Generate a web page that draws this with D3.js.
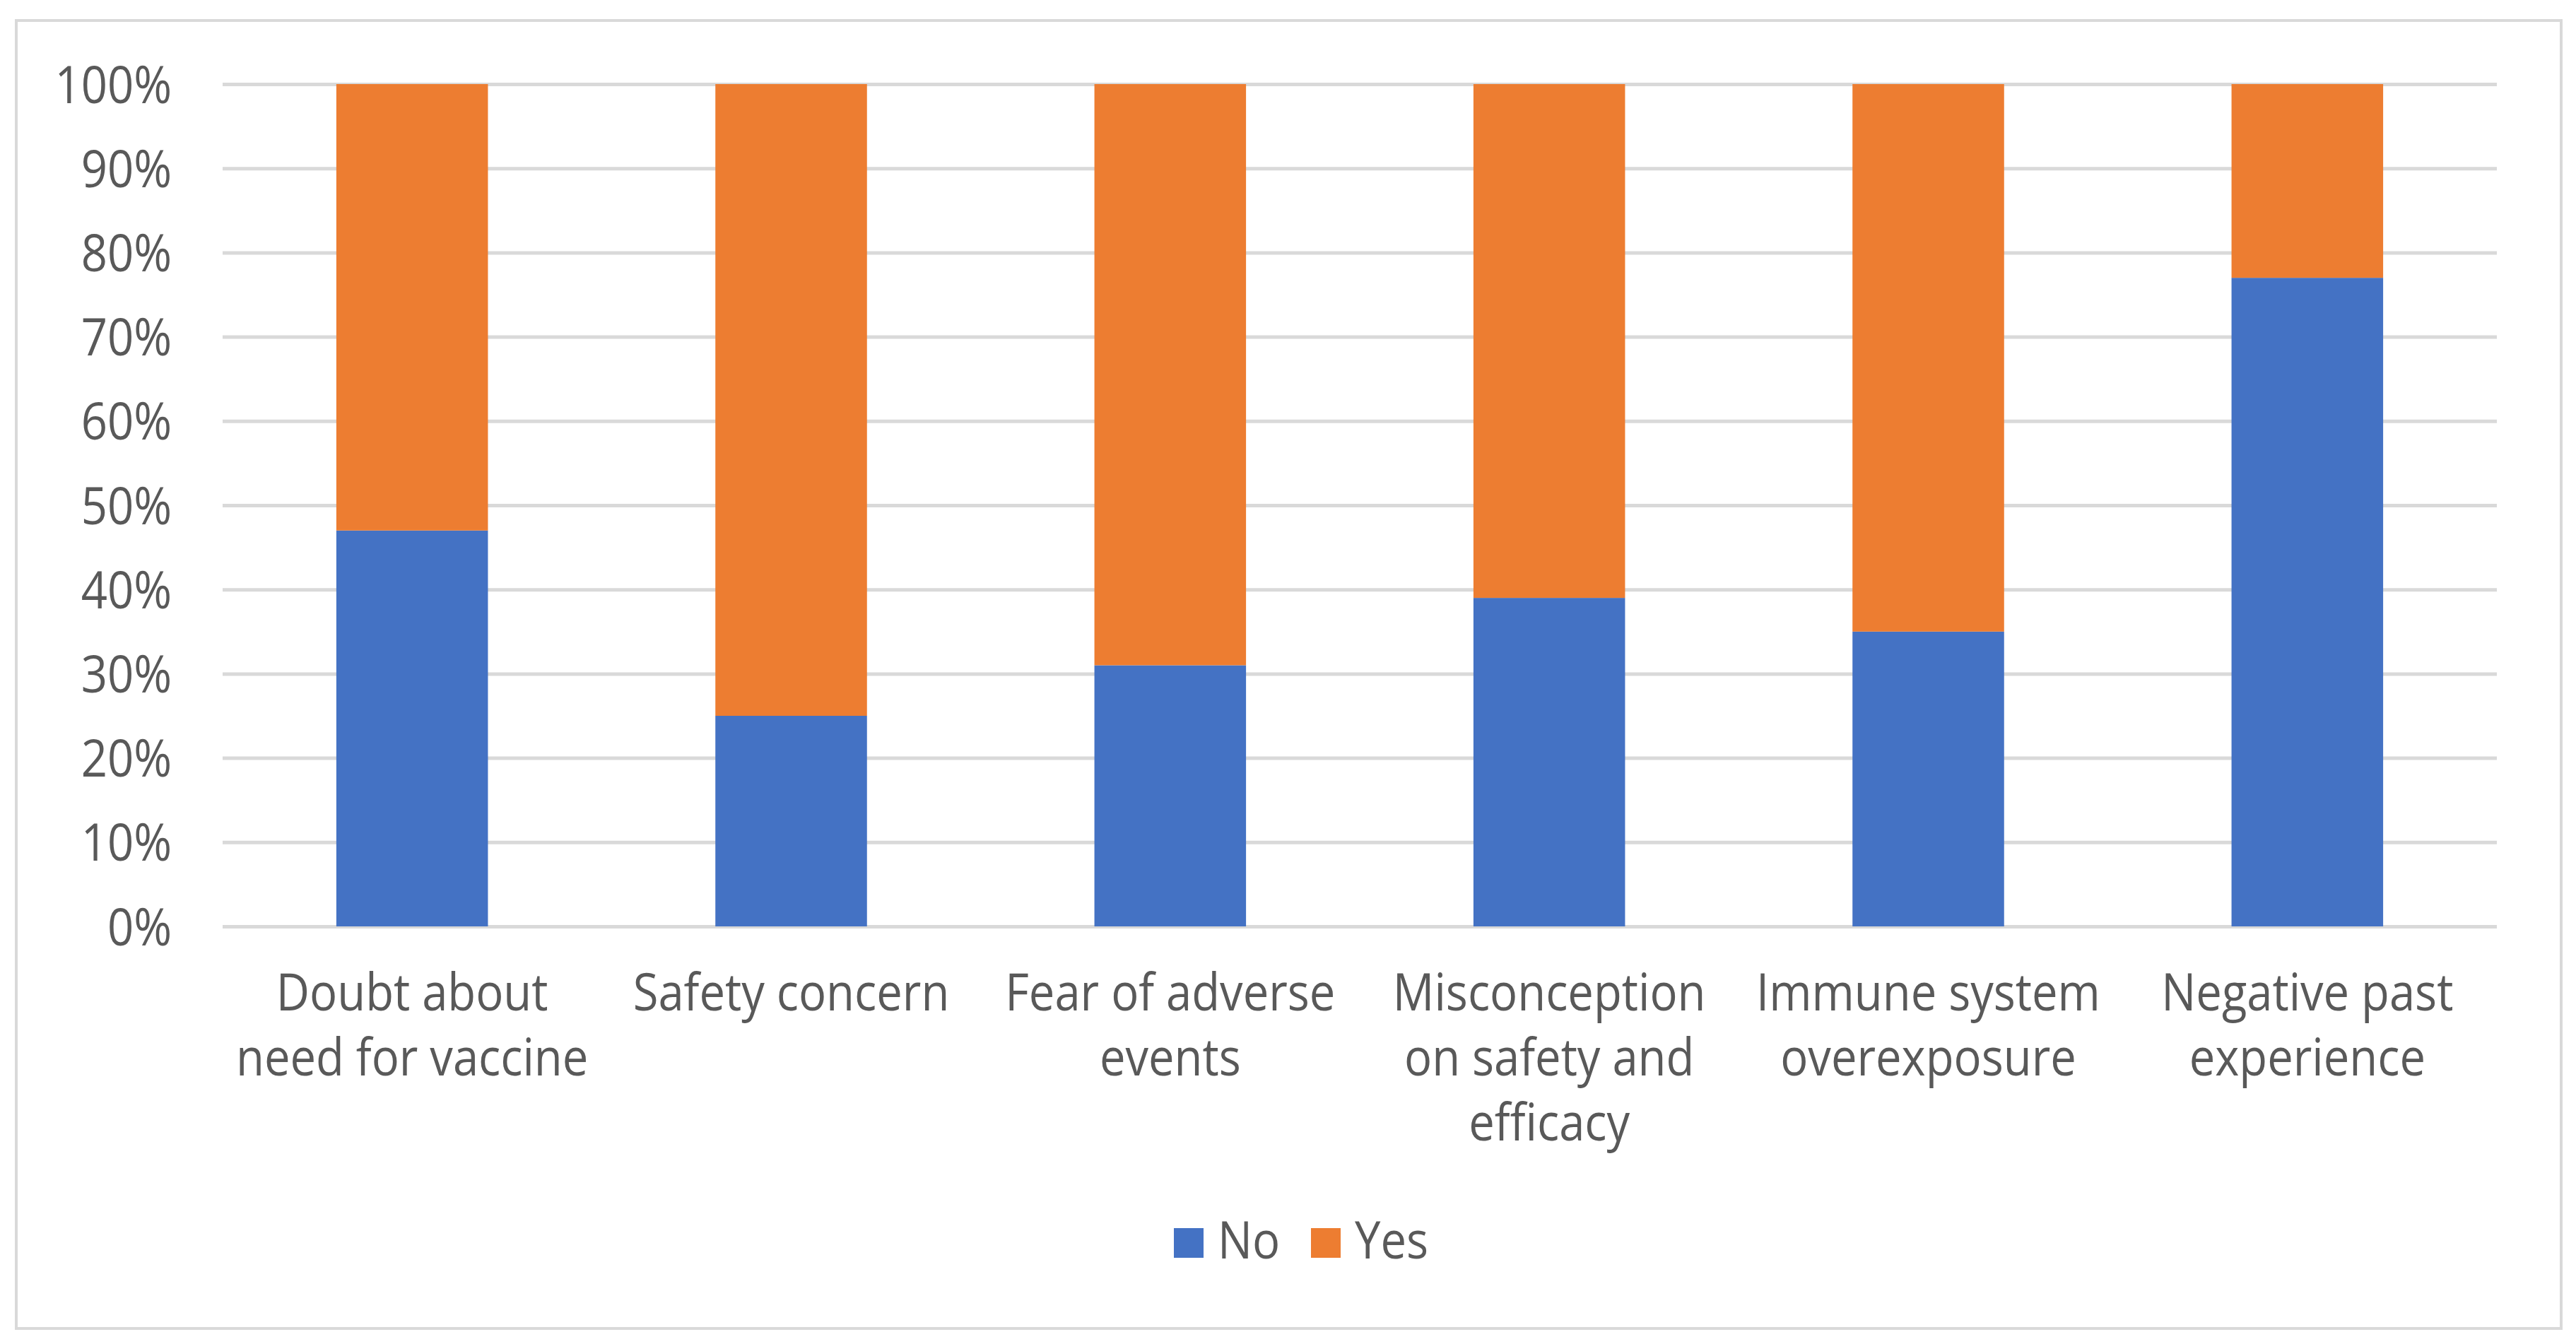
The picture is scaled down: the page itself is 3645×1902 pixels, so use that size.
<!DOCTYPE html>
<html>
<head>
<meta charset="utf-8">
<script src="https://cdn.jsdelivr.net/npm/d3@7"></script>
<style>
  body { margin: 0; background: #fff; }
  text { font-family: "Open Sans", sans-serif; fill: #595959; }
</style>
</head>
<body>
<script>
"use strict";

const width = 3645;
const height = 1902;

// data
const categories = [
  "Doubt about need for vaccine",
  "Safety concern",
  "Fear of adverse events",
  "Misconception on safety and efficacy",
  "Immune system overexposure",
  "Negative past experience"
];
const categoryLines = [
  ["Doubt about", "need for vaccine"],
  ["Safety concern"],
  ["Fear of adverse", "events"],
  ["Misconception", "on safety and", "efficacy"],
  ["Immune system", "overexposure"],
  ["Negative past", "experience"]
];
const seriesNames = ["No", "Yes"];
const noValues = [47, 25, 31, 39, 35, 77];
const yesValues = [53, 75, 69, 61, 65, 23];
const yTicks = [0, 10, 20, 30, 40, 50, 60, 70, 80, 90, 100];
const colors = ["#4472c4", "#ed7d31"];

// Open Sans is wider than the original font, squeeze text a bit
const squeeze = 0.88;

const margin = { top: 119, right: width - 3533, bottom: height - 1311, left: 315 };

let svg = d3.select("body").append("svg")
    .attr("width", width)
    .attr("height", height);

// chart border
svg.append("rect")
    .attr("x", 23).attr("y", 29)
    .attr("width", 3601).attr("height", 1851)
    .attr("fill", "#fff")
    .attr("stroke", "#d9d9d9")
    .attr("stroke-width", 4);

let x = d3.scaleBand()
    .domain(categories)
    .range([margin.left, width - margin.right])
    .paddingInner(0.6)
    .paddingOuter(0.3);

let y = d3.scaleLinear()
    .domain([0, 100])
    .range([height - margin.bottom, margin.top]);

// gridlines
let yAxis = d3.axisLeft(y)
    .tickValues(yTicks)
    .tickSize(-(width - margin.left - margin.right))
    .tickFormat("");

let gy = svg.append("g")
    .attr("transform", `translate(${margin.left},0)`)
    .call(yAxis);
gy.select(".domain").remove();
gy.selectAll(".tick line")
    .attr("stroke", "#d9d9d9")
    .attr("stroke-width", 5);

// y labels
svg.append("g")
  .selectAll("text")
  .data(yTicks)
  .enter().append("text")
    .attr("transform", d => `translate(243,${y(d)}) scale(${squeeze},1)`)
    .attr("text-anchor", "end")
    .attr("dy", "0.36em")
    .attr("font-size", 74)
    .text(d => d + "%");

// stacked bars
let rows = categories.map((c, i) => ({ cat: c, No: noValues[i], Yes: yesValues[i] }));
let stacked = d3.stack().keys(seriesNames)(rows);

svg.append("g")
  .selectAll("g")
  .data(stacked)
  .enter().append("g")
    .attr("fill", (d, i) => colors[i])
  .selectAll("rect")
  .data(d => d)
  .enter().append("rect")
    .attr("x", d => x(d.data.cat))
    .attr("y", d => y(d[1]))
    .attr("width", x.bandwidth())
    .attr("height", d => y(d[0]) - y(d[1]));

// x labels
let gx = svg.append("g");
categories.forEach((c, i) => {
  let cx = x(c) + x.bandwidth() / 2;
  let t = gx.append("text")
      .attr("text-anchor", "middle")
      .attr("font-size", 74)
      .attr("transform", `translate(${cx},0) scale(${squeeze},1)`);
  categoryLines[i].forEach((line, j) => {
    t.append("tspan")
        .attr("x", 0)
        .attr("y", 1430 + j * 92)
        .text(line);
  });
});

// legend
let legend = svg.append("g");
const legendX = [1661, 1855];
seriesNames.forEach((s, i) => {
  legend.append("rect")
      .attr("x", legendX[i]).attr("y", 1738)
      .attr("width", 42).attr("height", 42)
      .attr("fill", colors[i]);
  legend.append("text")
      .attr("transform", `translate(${legendX[i] + 62},1781) scale(${squeeze},1)`)
      .attr("font-size", 74)
      .text(s);
});
</script>
</body>
</html>
